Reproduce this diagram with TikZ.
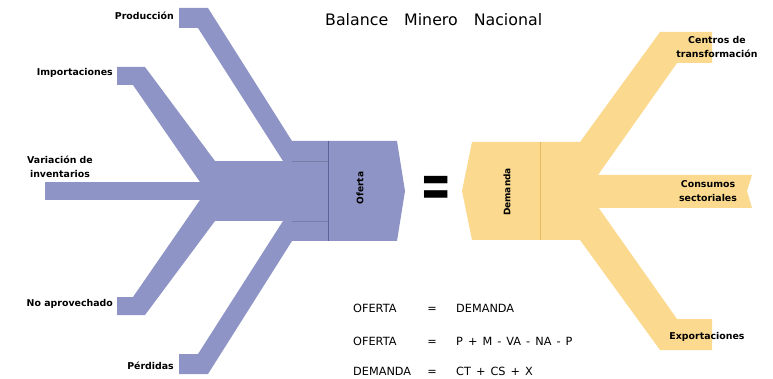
\documentclass[tikz,border=0pt]{standalone}
\usepackage{fontspec}
\setmainfont{DejaVu Sans}
\newfontfamily\eqfont[WordSpace=1.4]{DejaVu Sans}
\definecolor{ofblue}{HTML}{8E94C5}
\definecolor{ofline}{HTML}{5C6199}
\definecolor{dmyel}{HTML}{FBD98E}
\definecolor{dmline}{HTML}{E9B865}
\begin{document}
\begin{tikzpicture}[x=1pt,y=-1pt,
  blueshape/.style={fill=ofblue},
  yelshape/.style={fill=dmyel},
  lbl/.style={font=\fontsize{9.4}{14}\selectfont\bfseries, inner sep=0pt, align=center},
  eqt/.style={font=\eqfont\fontsize{11.3}{12}\selectfont, inner sep=0pt, anchor=base west},
  eqs/.style={font=\fontsize{11.3}{12}\selectfont, inner sep=0pt, anchor=base},
  boxlbl/.style={font=\fontsize{9}{10}\selectfont\bfseries, inner sep=0pt, rotate=90}
]
\useasboundingbox (0,0) rectangle (773,379);
% ---------- Oferta (blue) ----------
\fill[blueshape] (179,8) -- (208,8) -- (292,141) -- (292,161) -- (283,161) -- (198,28) -- (179,28) -- cycle;
\fill[blueshape] (117,67) -- (145,67) -- (215,161) -- (215,182) -- (200,182) -- (133,85) -- (117,85) -- cycle;
\fill[blueshape] (45,182) rectangle (216,200);
\fill[blueshape] (214,161) rectangle (293,221);
\fill[blueshape] (117,315) -- (145,315) -- (215,221) -- (215,200) -- (200,200) -- (133,297) -- (117,297) -- cycle;
\fill[blueshape] (179,374) -- (208,374) -- (292,241) -- (292,221) -- (283,221) -- (198,354) -- (179,354) -- cycle;
\fill[blueshape] (292,141) -- (397,141) -- (405,191) -- (397,241) -- (292,241) -- cycle;
\draw[ofline, line width=0.8pt] (328,141) -- (328,241);
\draw[ofblue!85!black, line width=0.3pt] (292,161) -- (328,161) (292,221) -- (328,221);
\node[boxlbl] (oferta) at (360,188) {Oferta};
% ---------- Demanda (yellow) ----------
\fill[yelshape] (472,142) -- (581,142) -- (581,240) -- (472,240) -- (462,191) -- cycle;
\fill[yelshape] (580,142) -- (660,32) -- (712,32) -- (712,63) -- (677,63) -- (598,175) -- (580,175) -- cycle;
\fill[yelshape] (579,175) -- (752,175) -- (747,191) -- (752,208) -- (579,208) -- cycle;
\fill[yelshape] (580,240) -- (660,350) -- (712,350) -- (712,319) -- (677,319) -- (598,207) -- (580,207) -- cycle;
\draw[dmline, line width=0.6pt] (540,142) -- (540,240);
\node[boxlbl] (demanda) at (507,192) {Demanda};
% ---------- equals ----------
\node[inner sep=0pt, font=\fontsize{34}{34}\selectfont\bfseries] (eq) at (436,192) {\scalebox{1.1}[1.9]{=}};
% ---------- title ----------
\node[inner sep=0pt, anchor=base west, font=\fontsize{15.8}{18}\selectfont] (title) at (325,26) {Balance\hspace{16pt}Minero\hspace{16pt}Nacional};
% ---------- labels ----------
\node[lbl, anchor=east] (prod) at (174,16) {Producción};
\node[lbl, anchor=east] (imp) at (113,73) {Importaciones};
\node[lbl] (var) at (60,167) {Variación de\\inventarios};
\node[lbl, anchor=east] (noap) at (113,304) {No aprovechado};
\node[lbl, anchor=east] (perd) at (174,366) {Pérdidas};
\node[lbl] (ctr) at (717,47) {Centros de\\transformación};
\node[lbl] (cons) at (708,191) {Consumos\\sectoriales};
\node[lbl] (exp) at (707,337) {Exportaciones};
% ---------- equations ----------
\node[eqt] (l1) at (353,312) {OFERTA};
\node[eqs] (e1) at (432,312) {=};
\node[eqt] (r1) at (456,312) {DEMANDA};
\node[eqt] (l2) at (353,345) {OFERTA};
\node[eqs] (e2) at (432,345) {=};
\node[eqt] (r2) at (456,345) {P + M - VA - NA - P};
\node[eqt] (l3) at (353,375) {DEMANDA};
\node[eqs] (e3) at (432,375) {=};
\node[eqt] (r3) at (456,375) {CT + CS + X};
\end{tikzpicture}
\end{document}
